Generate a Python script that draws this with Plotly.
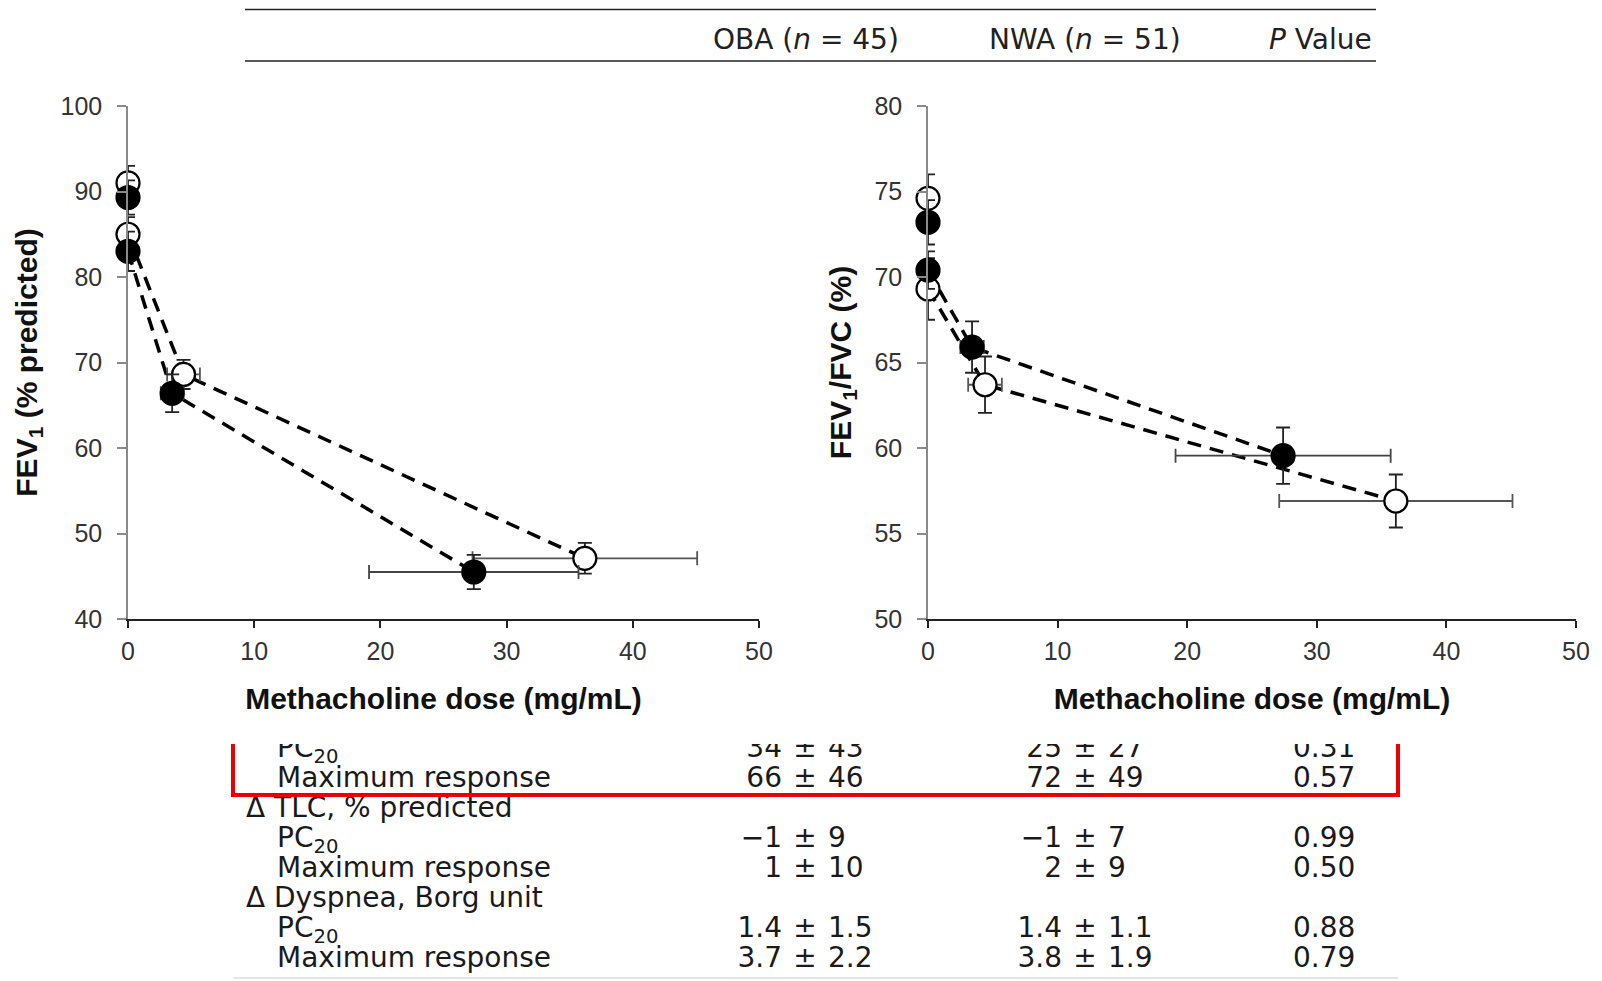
import plotly.graph_objects as go

W, H = 1602, 981

# ---------------- data ----------------
dose_ticks = [0, 10, 20, 30, 40, 50]
fev_ticks = [40, 50, 60, 70, 80, 90, 100]
ratio_ticks = [50, 55, 60, 65, 70, 75, 80]

# FEV1 (% predicted)
fev_filled_x = [0, 0, 3.5, 27.4]
fev_filled_y = [89.3, 83.0, 66.4, 45.5]
fev_filled_yerr = [2.0, 2.3, 2.2, 2.0]
fev_filled_xerr = [0, 0, 0.9, 8.3]
fev_open_x = [0, 0, 4.4, 36.2]
fev_open_y = [91.0, 85.0, 68.6, 47.1]
fev_open_yerr = [2.0, 2.0, 1.7, 1.8]
fev_open_xerr = [0, 0, 1.3, 8.9]

# FEV1/FVC (%)
ratio_filled_x = [0, 0, 3.4, 27.4]
ratio_filled_y = [73.2, 70.4, 65.9, 59.55]
ratio_filled_yerr = [1.3, 1.1, 1.5, 1.65]
ratio_filled_xerr = [0, 0, 0.9, 8.3]
ratio_open_x = [0, 0, 4.4, 36.1]
ratio_open_y = [74.6, 69.3, 63.7, 56.9]
ratio_open_yerr = [1.4, 1.8, 1.65, 1.55]
ratio_open_xerr = [0, 0, 1.3, 9.0]

# table
header_labels = ["OBA (<i>n</i> = 45)", "NWA (<i>n</i> = 51)", "<i>P</i> Value"]
row_labels = ["PC<sub>20</sub>", "Maximum response", "\u0394 TLC, % predicted",
              "PC<sub>20</sub>", "Maximum response", "\u0394 Dyspnea, Borg unit",
              "PC<sub>20</sub>", "Maximum response"]
row_is_header = [False, False, True, False, False, True, False, False]
oba_mean = ["34", "66", "", "\u22121", "1", "", "1.4", "3.7"]
oba_sd = ["43", "46", "", "9", "10", "", "1.5", "2.2"]
nwa_mean = ["25", "72", "", "\u22121", "2", "", "1.4", "3.8"]
nwa_sd = ["27", "49", "", "7", "9", "", "1.1", "1.9"]
p_values = ["0.31", "0.57", "", "0.99", "0.50", "", "0.88", "0.79"]

# ---------------- layout helpers (page px -> paper coords) ----------------
def pxx(x):
    return x / W

def pyy(y):
    return 1 - y / H

TICK_FONT = dict(family="Liberation Sans, Arial, sans-serif", size=25, color="#333333")
TITLE_FONT = dict(family="Liberation Sans, Arial, sans-serif", size=30, color="#111111")
TABLE_FONT = dict(family="DejaVu Sans, sans-serif", size=28, color="#1a1a1a")

fig = go.Figure()

def add_panel(xa, ya, fx, fy, fyerr, fxerr, ox, oy, oyerr, oxerr):
    dash = "14px,9px"
    fig.add_trace(go.Scatter(x=fx[1:], y=fy[1:], mode="lines", xaxis=xa, yaxis=ya,
                             line=dict(color="black", width=3.5, dash=dash),
                             cliponaxis=False, hoverinfo="skip"))
    fig.add_trace(go.Scatter(x=ox[1:], y=oy[1:], mode="lines", xaxis=xa, yaxis=ya,
                             line=dict(color="black", width=3.5, dash=dash),
                             cliponaxis=False, hoverinfo="skip"))
    fig.add_trace(go.Scatter(x=ox, y=oy, mode="markers", xaxis=xa, yaxis=ya,
                             marker=dict(size=23, color="white", line=dict(color="black", width=2.2)),
                             error_y=dict(type="data", array=oyerr, color="#222222", thickness=1.8, width=7),
                             error_x=dict(type="data", array=oxerr, color="#555555", thickness=1.8, width=7),
                             cliponaxis=False))
    fig.add_trace(go.Scatter(x=fx, y=fy, mode="markers", xaxis=xa, yaxis=ya,
                             marker=dict(size=23, color="black", line=dict(color="black", width=2.2)),
                             error_y=dict(type="data", array=fyerr, color="#222222", thickness=1.8, width=7),
                             error_x=dict(type="data", array=fxerr, color="#444444", thickness=1.8, width=7),
                             cliponaxis=False))

add_panel("x", "y", fev_filled_x, fev_filled_y, fev_filled_yerr, fev_filled_xerr,
          fev_open_x, fev_open_y, fev_open_yerr, fev_open_xerr)
add_panel("x2", "y2", ratio_filled_x, ratio_filled_y, ratio_filled_yerr, ratio_filled_xerr,
          ratio_open_x, ratio_open_y, ratio_open_yerr, ratio_open_xerr)

# ---------------- table as text traces in a hidden pixel-space subplot ----------------
TABLE_TOP = 744
ROW0_Y = 750
ROW_STEP = 30
row_y = [ROW0_Y + ROW_STEP * i for i in range(len(row_labels))]

SUB_X, HEAD_X = 277, 246
OBA_PM, NWA_PM, P_X = 805, 1085, 1293
GAP = 23

lab_x = [HEAD_X if h else SUB_X for h in row_is_header]
fig.add_trace(go.Scatter(x=lab_x, y=row_y, text=row_labels, mode="text",
                         textposition="middle right", textfont=TABLE_FONT,
                         xaxis="x3", yaxis="y3", cliponaxis=True, hoverinfo="skip"))

idx = [i for i, h in enumerate(row_is_header) if not h]
vy = [row_y[i] for i in idx]
for pm, means, sds in [(OBA_PM, oba_mean, oba_sd), (NWA_PM, nwa_mean, nwa_sd)]:
    fig.add_trace(go.Scatter(x=[pm - GAP] * len(idx), y=vy, text=[means[i] for i in idx],
                             mode="text", textposition="middle left", textfont=TABLE_FONT,
                             xaxis="x3", yaxis="y3", cliponaxis=True, hoverinfo="skip"))
    fig.add_trace(go.Scatter(x=[pm] * len(idx), y=vy, text=["\u00b1"] * len(idx),
                             mode="text", textposition="middle center", textfont=TABLE_FONT,
                             xaxis="x3", yaxis="y3", cliponaxis=True, hoverinfo="skip"))
    fig.add_trace(go.Scatter(x=[pm + GAP] * len(idx), y=vy, text=[sds[i] for i in idx],
                             mode="text", textposition="middle right", textfont=TABLE_FONT,
                             xaxis="x3", yaxis="y3", cliponaxis=True, hoverinfo="skip"))
fig.add_trace(go.Scatter(x=[P_X] * len(idx), y=vy, text=[p_values[i] for i in idx],
                         mode="text", textposition="middle right", textfont=TABLE_FONT,
                         xaxis="x3", yaxis="y3", cliponaxis=True, hoverinfo="skip"))

# ---------------- axes ----------------
def xaxis_style(domain, title, anchor):
    return dict(domain=domain, range=[0, 50], tickmode="array", tickvals=dose_ticks, anchor=anchor,
                showline=True, linecolor="#222222", linewidth=2, ticks="outside",
                ticklen=7, tickcolor="#222222", tickwidth=1.5, tickfont=TICK_FONT,
                ticklabelstandoff=2, automargin=False,
                showgrid=False, zeroline=False,
                title=dict(text="<b>" + title + "</b>", font=TITLE_FONT, standoff=24))

def yaxis_style(domain, rng, ticks, title, anchor):
    return dict(domain=domain, range=rng, tickmode="array", tickvals=ticks, anchor=anchor,
                showline=True, linecolor="#8a8a8a", linewidth=1.5, ticks="outside",
                ticklen=9, tickcolor="#8a8a8a", tickwidth=1.5, tickfont=TICK_FONT,
                ticklabelstandoff=10, automargin=False,
                showgrid=False, zeroline=False,
                title=dict(text="<b>" + title + "</b>", font=TITLE_FONT, standoff=14))

ydom = [pyy(619), pyy(106)]
fig.update_layout(
    width=W, height=H,
    margin=dict(l=0, r=0, t=0, b=0, autoexpand=False),
    paper_bgcolor="white", plot_bgcolor="white",
    showlegend=False, hovermode=False,
    xaxis=xaxis_style([pxx(128), pxx(759)], "Methacholine dose (mg/mL)", "y"),
    yaxis=yaxis_style(ydom, [40, 100], fev_ticks, "FEV<sub>1</sub> (% predicted)", "x"),
    xaxis2=xaxis_style([pxx(928), pxx(1576)], "Methacholine dose (mg/mL)", "y2"),
    yaxis2=yaxis_style(ydom, [50, 80], ratio_ticks, "FEV<sub>1</sub>/FVC (%)", "x2"),
    xaxis3=dict(domain=[0, 1], range=[0, W], visible=False, anchor="y3", automargin=False),
    yaxis3=dict(domain=[0, pyy(TABLE_TOP)], range=[H, TABLE_TOP], visible=False,
                anchor="x3", automargin=False),
)

# table header rules and labels
for yline in [9.5, 61]:
    fig.add_shape(type="line", xref="paper", yref="paper",
                  x0=pxx(245), x1=pxx(1376), y0=pyy(yline), y1=pyy(yline),
                  line=dict(color="#222222", width=1.6))
fig.add_shape(type="line", xref="paper", yref="paper",
              x0=pxx(233), x1=pxx(1398), y0=pyy(978), y1=pyy(978),
              line=dict(color="#dddddd", width=1.5))

for lab, cx in zip(header_labels, [806, 1085, 1320]):
    fig.add_annotation(x=pxx(cx), y=pyy(39), xref="paper", yref="paper", text=lab,
                       showarrow=False, xanchor="center", yanchor="middle",
                       font=dict(family="DejaVu Sans, sans-serif", size=28, color="#222222"))

# red highlight box (open at top, covered by the plots)
fig.add_shape(type="path", xref="paper", yref="paper",
              path=f"M {pxx(233)},{pyy(TABLE_TOP)} L {pxx(233)},{pyy(795)} "
                   f"L {pxx(1398)},{pyy(795)} L {pxx(1398)},{pyy(TABLE_TOP)}",
              line=dict(color="#ee0000", width=4))

fig.write_html("out.html")
